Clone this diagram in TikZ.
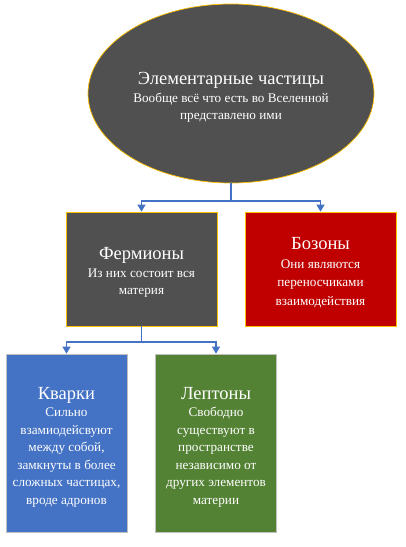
\documentclass[tikz,border=0pt]{standalone}
\usepackage{fontspec}
\setmainfont{Liberation Serif}
\usetikzlibrary{shapes.geometric,arrows.meta}
\definecolor{dgray}{HTML}{505050}
\definecolor{dred}{HTML}{C00000}
\definecolor{qblue}{HTML}{4472C4}
\definecolor{lgreen}{HTML}{548235}
\definecolor{gold}{HTML}{FFC000}
\definecolor{lborder}{HTML}{BFBFBF}
\definecolor{conn}{HTML}{4472C4}
\newcommand{\ttl}[1]{{\fontsize{18.5}{21}\selectfont #1}}
\begin{document}
\begin{tikzpicture}[x=1pt,y=-1pt,
  shp/.style={line width=0.7pt},
  txt/.style={text=white, align=center, inner sep=0pt, font=\fontsize{13.2}{17.5}\selectfont},
  topbox/.style={shp, draw=gold, minimum width=151pt, minimum height=114pt},
  lowbox/.style={shp, draw=lborder, minimum width=121pt, minimum height=178pt},
  link/.style={draw=conn, line width=1.2pt, -{Triangle[width=8pt,length=7pt]}}
]
\useasboundingbox (0,0) rectangle (406,547);
\node[shp, ellipse, draw=gold, fill=dgray, minimum width=286pt, minimum height=179pt] (root) at (231,93.5) {};
\node[txt] (root-t) at ([yshift=-4pt]root.center)
  {\ttl{Элементарные частицы}\\Вообще всё что есть во Вселенной\\представлено ими};
\node[topbox, fill=dgray] (ferm) at (141.5,269) {};
\node[txt] (ferm-t) at ([yshift=-3.5pt]ferm.center) {\ttl{Фермионы}\\Из них состоит вся\\материя};
\node[topbox, fill=dred] (boz) at (320.5,269) {};
\node[txt, font=\fontsize{13.2}{18.5}\selectfont] (boz-t) at ([yshift=-3.5pt]boz.center) {\ttl{Бозоны}\\Они являются\\переносчиками\\взаимодействия};
\node[lowbox, fill=qblue] (quark) at (66.5,443) {};
\node[txt] (quark-t) at ([yshift=-4pt]quark.center) {\ttl{Кварки}\\Сильно\\взамиодейсвуют\\между собой,\\замкнуты в более\\сложных частицах,\\вроде адронов};
\node[lowbox, fill=lgreen] (lept) at (216,443) {};
\node[txt] (lept-t) at ([yshift=-4pt]lept.center) {\ttl{Лептоны}\\Свободно\\существуют в\\пространстве\\независимо от\\других элементов\\материи};
\coordinate (j1) at (231,201);
\coordinate (j2) at (141.5,342);
\draw[link] (root.south) -- (j1) -| (ferm.north);
\draw[link] (root.south) -- (j1) -| (boz.north);
\draw[link] (ferm.south) -- (j2) -| (quark.north);
\draw[link] (ferm.south) -- (j2) -| (lept.north);
\end{tikzpicture}
\end{document}
